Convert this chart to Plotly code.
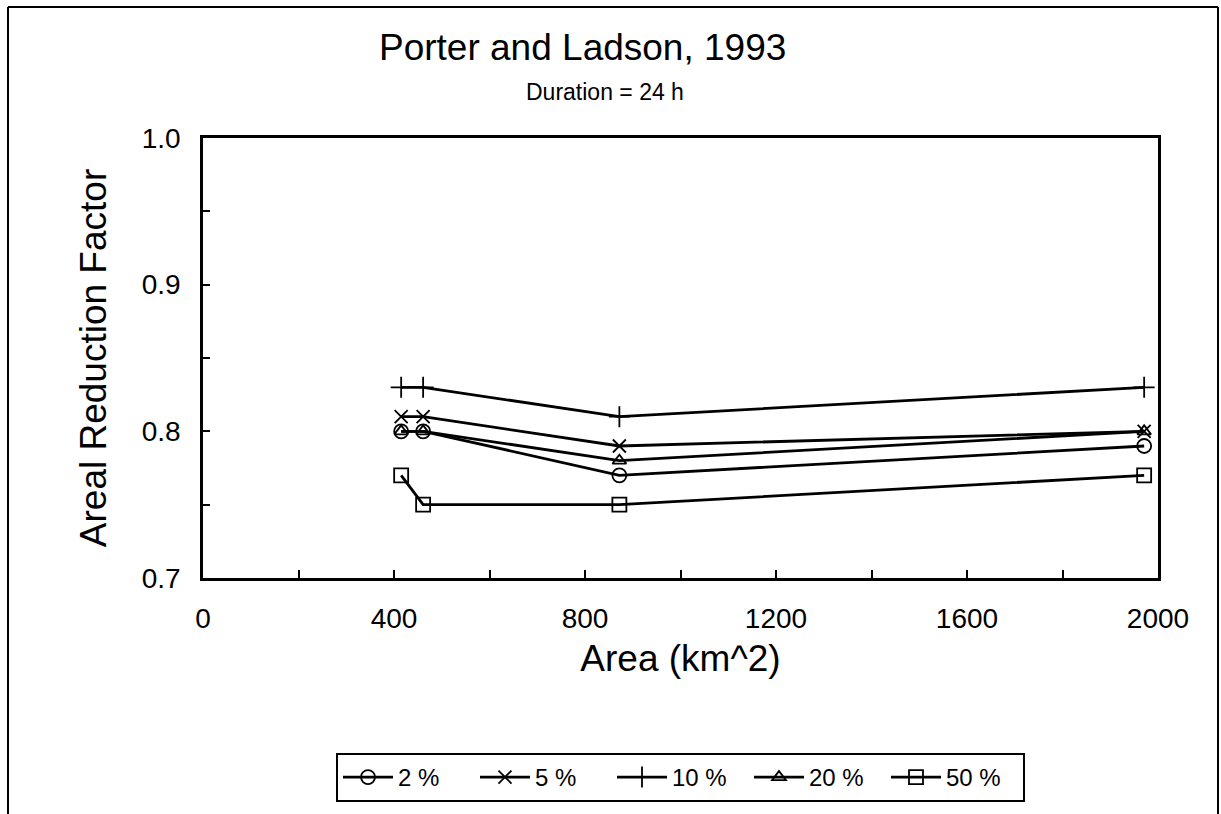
import plotly.graph_objects as go

# Catchment areas (km^2) and areal reduction factors for a 24 h duration
area_km2 = [415, 461, 872, 1971]

series_names = ["2 %", "5 %", "10 %", "20 %", "50 %"]
arf_2 = [0.80, 0.80, 0.77, 0.79]
arf_5 = [0.81, 0.81, 0.79, 0.80]
arf_10 = [0.83, 0.83, 0.81, 0.83]
arf_20 = [0.80, 0.80, 0.78, 0.80]
arf_50 = [0.77, 0.75, 0.75, 0.77]

x_tick_vals = [0, 200, 400, 600, 800, 1000, 1200, 1400, 1600, 1800, 2000]
x_tick_text = ["0", "", "400", "", "800", "", "1200", "", "1600", "", "2000"]
y_tick_vals = [0.70, 0.75, 0.80, 0.85, 0.90, 0.95, 1.00]
y_tick_text = ["0.7", "", "0.8", "", "0.9", "", "1.0"]

FONT = "Liberation Sans, Arial, Helvetica, sans-serif"

series = [
    (series_names[0], arf_2, "circle-open", 14),
    (series_names[1], arf_5, "x-thin-open", 13),
    (series_names[2], arf_10, "cross-thin-open", 15),
    (series_names[3], arf_20, "triangle-up-open", 12),
    (series_names[4], arf_50, "square-open", 14),
]

fig = go.Figure()
for name, vals, symbol, size in series:
    fig.add_trace(go.Scatter(
        x=area_km2, y=vals, name=name, mode="lines+markers",
        line=dict(color="black", width=2.8),
        marker=dict(symbol=symbol, size=size, color="black",
                    line=dict(color="black", width=1.8)),
        cliponaxis=False,
    ))

fig.update_layout(
    width=1221, height=814,
    margin=dict(l=203, r=63, t=138, b=236),
    paper_bgcolor="white", plot_bgcolor="white",
    font=dict(family=FONT, color="black"),
    showlegend=True,
    legend=dict(
        orientation="h", x=(336 - 203) / 955, y=(578 - 753) / 440,
        xanchor="left", yanchor="top",
        bordercolor="black", borderwidth=2, bgcolor="white",
        font=dict(size=24, family=FONT), entrywidth=72, entrywidthmode="pixels",
        itemwidth=50, tracegroupgap=0,
    ),
    annotations=[
        dict(text="Porter and Ladson, 1993", xref="paper", yref="paper",
             x=(582 - 203) / 955, y=(578 - 48) / 440, xanchor="center", yanchor="middle",
             showarrow=False, font=dict(size=37, family=FONT)),
        dict(text="Duration = 24 h", xref="paper", yref="paper",
             x=(605 - 203) / 955, y=(578 - 92) / 440, xanchor="center", yanchor="middle",
             showarrow=False, font=dict(size=23, family=FONT)),
    ],
    shapes=[
        # outer frame around the whole figure
        dict(type="line", xref="paper", yref="paper",
             x0=(8 - 203) / 955, x1=(1218 - 203) / 955,
             y0=(578 - 7) / 440, y1=(578 - 7) / 440,
             line=dict(color="black", width=2)),
        dict(type="line", xref="paper", yref="paper",
             x0=(8 - 203) / 955, x1=(8 - 203) / 955,
             y0=(578 - 7) / 440, y1=(578 - 820) / 440,
             line=dict(color="black", width=2)),
        dict(type="line", xref="paper", yref="paper",
             x0=(1218 - 203) / 955, x1=(1218 - 203) / 955,
             y0=(578 - 7) / 440, y1=(578 - 820) / 440,
             line=dict(color="black", width=2)),
    ],
)

fig.update_xaxes(
    range=[0, 2000], tickmode="array", tickvals=x_tick_vals, ticktext=x_tick_text,
    ticks="inside", ticklen=8, tickwidth=1.5, tickcolor="black",
    showline=True, linecolor="black", linewidth=2.5, mirror=True,
    showgrid=False, zeroline=False,
    tickfont=dict(size=28, family=FONT), ticklabelstandoff=14,
    title=dict(text="Area (km^2)", font=dict(size=37, family=FONT), standoff=12),
)
fig.update_yaxes(
    range=[0.7, 1.0], tickmode="array", tickvals=y_tick_vals, ticktext=y_tick_text,
    ticks="inside", ticklen=7, tickwidth=1.5, tickcolor="black",
    showline=True, linecolor="black", linewidth=2.5, mirror=True,
    showgrid=False, zeroline=False,
    tickfont=dict(size=28, family=FONT), ticklabelstandoff=14,
    title=dict(text="Areal Reduction Factor", font=dict(size=37, family=FONT), standoff=24),
)

fig.write_html("out.html")
